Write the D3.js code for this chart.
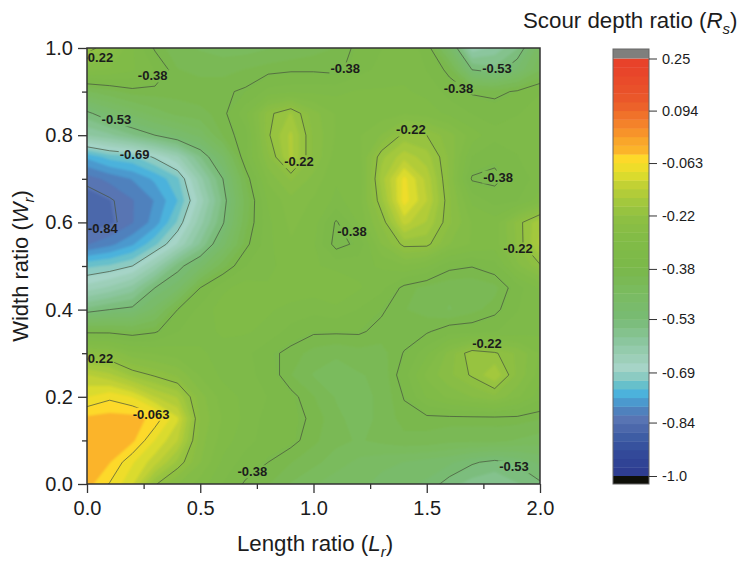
<!DOCTYPE html>
<html>
<head>
<meta charset="utf-8">
<script src="https://cdn.jsdelivr.net/npm/d3@7"></script>
<style>
  body { margin: 0; background: #fff; }
  text { font-family: "Liberation Sans", Arial, sans-serif; fill: #1c1c1c; }
</style>
</head>
<body>
<script>
// values, top row is Wr = 1.0, columns are Lr = 0 .. 2.0
const lengthRatio = d3.range(21).map(i => i / 10);
const widthRatio = d3.range(21).map(i => 1 - i / 20);
const scourDepth = [
  [-.20,-.25,-.32,-.385,-.42,-.43,-.44,-.44,-.43,-.42,-.41,-.40,-.37,-.35,-.33,-.36,-.48,-.63,-.60,-.56,-.46],
  [-.29,-.30,-.32,-.35,-.40,-.41,-.41,-.40,-.39,-.385,-.385,-.39,-.36,-.34,-.33,-.35,-.39,-.53,-.55,-.50,-.43],
  [-.43,-.41,-.39,-.39,-.39,-.385,-.385,-.375,-.34,-.33,-.33,-.33,-.32,-.32,-.32,-.33,-.36,-.385,-.39,-.375,-.35],
  [-.54,-.50,-.47,-.44,-.42,-.41,-.39,-.33,-.23,-.19,-.26,-.30,-.31,-.31,-.30,-.31,-.33,-.35,-.36,-.35,-.34],
  [-.61,-.59,-.56,-.53,-.50,-.47,-.40,-.36,-.225,-.16,-.25,-.30,-.30,-.27,-.21,-.22,-.26,-.31,-.34,-.34,-.33],
  [-.76,-.73,-.72,-.685,-.64,-.56,-.48,-.355,-.25,-.16,-.25,-.31,-.31,-.20,-.15,-.18,-.25,-.35,-.37,-.35,-.33],
  [-.83,-.81,-.79,-.76,-.72,-.62,-.53,-.40,-.29,-.24,-.28,-.32,-.32,-.18,-.08,-.15,-.25,-.385,-.39,-.36,-.34],
  [-.86,-.845,-.82,-.79,-.74,-.65,-.55,-.42,-.32,-.28,-.30,-.33,-.31,-.20,-.075,-.14,-.24,-.33,-.36,-.35,-.31],
  [-.86,-.85,-.82,-.78,-.71,-.62,-.535,-.41,-.33,-.29,-.31,-.385,-.32,-.24,-.13,-.17,-.24,-.30,-.31,-.235,-.17],
  [-.82,-.80,-.77,-.72,-.66,-.58,-.49,-.39,-.33,-.30,-.32,-.395,-.37,-.27,-.21,-.21,-.27,-.30,-.31,-.24,-.16],
  [-.72,-.71,-.69,-.63,-.545,-.49,-.41,-.35,-.33,-.31,-.32,-.33,-.33,-.32,-.30,-.32,-.37,-.378,-.36,-.28,-.225],
  [-.65,-.63,-.60,-.53,-.49,-.38,-.33,-.31,-.32,-.31,-.31,-.30,-.32,-.34,-.39,-.41,-.42,-.42,-.41,-.36,-.32],
  [-.55,-.53,-.52,-.47,-.38,-.34,-.31,-.305,-.32,-.33,-.34,-.33,-.35,-.375,-.40,-.41,-.43,-.41,-.39,-.35,-.33],
  [-.39,-.39,-.40,-.385,-.35,-.33,-.32,-.32,-.33,-.36,-.375,-.375,-.375,-.39,-.395,-.385,-.36,-.36,-.35,-.34,-.33],
  [-.24,-.25,-.29,-.30,-.31,-.32,-.33,-.34,-.37,-.39,-.41,-.42,-.41,-.41,-.378,-.33,-.26,-.20,-.215,-.25,-.30],
  [-.14,-.16,-.20,-.225,-.25,-.30,-.33,-.34,-.36,-.40,-.43,-.45,-.43,-.42,-.36,-.29,-.25,-.215,-.17,-.25,-.31],
  [-.09,-.07,-.09,-.14,-.17,-.26,-.31,-.33,-.35,-.37,-.40,-.43,-.44,-.42,-.378,-.32,-.29,-.27,-.25,-.29,-.34],
  [-.03,-.025,-.025,-.045,-.11,-.25,-.30,-.33,-.36,-.37,-.385,-.42,-.44,-.42,-.39,-.39,-.39,-.39,-.39,-.39,-.40],
  [-.02,-.02,-.03,-.09,-.14,-.26,-.31,-.34,-.36,-.37,-.395,-.42,-.43,-.42,-.41,-.41,-.42,-.42,-.42,-.43,-.44],
  [-.02,-.035,-.085,-.13,-.20,-.27,-.33,-.36,-.38,-.40,-.42,-.44,-.46,-.47,-.48,-.49,-.50,-.525,-.54,-.525,-.50],
  [-.025,-.065,-.11,-.215,-.27,-.31,-.35,-.385,-.40,-.43,-.45,-.47,-.47,-.49,-.50,-.51,-.545,-.57,-.58,-.56,-.535]
];

const lineLevels = [-0.84, -0.69, -0.53, -0.38, -0.22, -0.063];
const barTicks = [0.25, 0.094, -0.063, -0.22, -0.38, -0.53, -0.69, -0.84, -1.0];
const barTickText = ["0.25", "0.094", "-0.063", "-0.22", "-0.38", "-0.53", "-0.69", "-0.84", "-1.0"];

const labelText = ["-0.22","-0.38","-0.53","-0.69","-0.84","-0.22","-0.38","-0.38","-0.53","-0.22","-0.38","-0.38","-0.22","-0.22","-0.063","-0.38","-0.22","-0.53"];
const labelLr = [.05,.29,.13,.21,.07,.936,1.14,1.64,1.81,1.43,1.815,1.17,1.903,.05,.283,.73,1.766,1.885];
const labelWr = [.979,.936,.835,.755,.585,.739,.952,.908,.952,.812,.704,.578,.539,.287,.16,.028,.323,.039];

// colour ramp stops taken from the colour bar
const rampValues = [-1,-.93,-.89,-.86,-.835,-.81,-.785,-.76,-.735,-.71,-.68,-.6,-.53,-.45,-.38,-.28,-.22,-.17,-.13,-.09,-.05,-.04,-.03,0,.03,.08,.12,.22,.25];
const rampColors = ["#2d3a8f","#334a9a","#3a5aa2","#4a67aa","#5a72b2","#4f7dba","#4d92c8","#46ade0","#5bbdd2","#7fc7be","#a8d5ca","#8cc7a0","#78bb74","#7abb60","#7ab84a","#83bc46","#90c042","#a8ca3c","#c0d035","#e5e02a","#fdd92a","#fdd62a","#fbb82a","#f9a82a","#f7922a","#f0722a","#ea5a2a","#e8432a","#e8412a"];

const bandCount = 48;
const bandStep = 1.25 / bandCount;
const bandLevels = d3.range(bandCount).map(i => -1 + i * bandStep);
const ramp = d3.scaleLinear().domain(rampValues).range(rampColors).clamp(true);
const bandColor = t => ramp(t + bandStep / 2);

const width = 739, height = 561;
const plot = {left: 87, right: 540, top: 48, bottom: 484};
const bar = {left: 613, right: 649, top: 49, bottom: 484};

const x = d3.scaleLinear().domain([0, 2]).range([plot.left, plot.right]);
const y = d3.scaleLinear().domain([0, 1]).range([plot.bottom, plot.top]);
const barY = d3.scaleLinear().domain([-1, 0.25]).range([476, 58.5]);

const svg = d3.select("body").append("svg")
  .attr("width", width)
  .attr("height", height);

const defs = svg.append("defs");
defs.append("clipPath").attr("id", "plot-clip")
  .append("rect")
  .attr("x", plot.left).attr("y", plot.top)
  .attr("width", plot.right - plot.left).attr("height", plot.bottom - plot.top);
defs.append("filter").attr("id", "soft")
  .append("feGaussianBlur").attr("stdDeviation", 0.9);

// contours work in grid units, a value i sits at i + 0.5
const n = lengthRatio.length, m = widthRatio.length;
const flat = scourDepth.flat();
const project = d3.geoTransform({
  point: function(px, py) {
    const lr = d3.scaleLinear().domain([0, n - 1]).range([lengthRatio[0], lengthRatio[n - 1]])(px - 0.5);
    const wr = d3.scaleLinear().domain([0, m - 1]).range([widthRatio[0], widthRatio[m - 1]])(py - 0.5);
    this.stream.point(x(lr), y(wr));
  }
});
const path = d3.geoPath(project);

const clipped = svg.append("g").attr("clip-path", "url(#plot-clip)");

clipped.append("g").attr("filter", "url(#soft)")
  .selectAll("path")
  .data(d3.contours().size([n, m]).thresholds(bandLevels)(flat))
  .join("path")
    .attr("d", path)
    .attr("fill", d => bandColor(d.value))
    .attr("stroke", d => bandColor(d.value))
    .attr("stroke-width", 0.3);

const lineGroup = clipped.append("g")
  .attr("fill", "none")
  .attr("stroke", "#46523c")
  .attr("stroke-width", 0.7);

lineGroup.selectAll("path")
  .data(d3.contours().size([n, m]).thresholds(lineLevels)(flat))
  .join("path")
    .attr("d", path);

const labels = clipped.append("g")
  .attr("font-size", 13)
  .attr("font-weight", "bold")
  .attr("text-anchor", "middle")
  .selectAll("text")
  .data(labelText)
  .join("text")
    .attr("x", (d, i) => x(labelLr[i]))
    .attr("y", (d, i) => y(labelWr[i]) + 4.5)
    .text(d => d);

// contour lines are broken where a label sits
const mask = defs.append("mask").attr("id", "label-gaps")
  .attr("maskUnits", "userSpaceOnUse")
  .attr("x", 0).attr("y", 0).attr("width", width).attr("height", height);
mask.append("rect").attr("width", width).attr("height", height).attr("fill", "#fff");
labels.each(function() {
  const b = this.getBBox();
  mask.append("rect")
    .attr("x", b.x - 1).attr("y", b.y + 1)
    .attr("width", b.width + 2).attr("height", b.height - 2)
    .attr("fill", "#000");
});
lineGroup.attr("mask", "url(#label-gaps)");

// frame and axes
svg.append("rect")
  .attr("x", plot.left).attr("y", plot.top)
  .attr("width", plot.right - plot.left).attr("height", plot.bottom - plot.top)
  .attr("fill", "none")
  .attr("stroke", "#333")
  .attr("stroke-width", 1.5);

const styleAxis = g => {
  g.select(".domain").remove();
  g.selectAll("line").attr("stroke", "#333").attr("stroke-width", 1.3);
  g.selectAll("text").attr("font-size", 20).attr("fill", "#333");
};

svg.append("g")
  .attr("transform", `translate(0,${plot.bottom})`)
  .call(d3.axisBottom(x).tickValues([0, 0.5, 1, 1.5, 2]).tickSize(9).tickPadding(8).tickFormat(d3.format(".1f")))
  .call(styleAxis);
svg.append("g")
  .attr("transform", `translate(0,${plot.bottom})`)
  .call(d3.axisBottom(x).tickValues([0.25, 0.75, 1.25, 1.75]).tickSize(5).tickFormat(""))
  .call(styleAxis);
svg.append("g")
  .attr("transform", `translate(${plot.left},0)`)
  .call(d3.axisLeft(y).tickValues([0, 0.2, 0.4, 0.6, 0.8, 1]).tickSize(9).tickPadding(5).tickFormat(d3.format(".1f")))
  .call(styleAxis);
svg.append("g")
  .attr("transform", `translate(${plot.left},0)`)
  .call(d3.axisLeft(y).tickValues([0.1, 0.3, 0.5, 0.7, 0.9]).tickSize(5).tickFormat(""))
  .call(styleAxis);

// axis titles
const title = (sel, main, sub) => {
  sel.append("tspan").text(main + " (");
  sel.append("tspan").attr("font-style", "italic").text(sub[0]);
  sel.append("tspan").attr("font-style", "italic").attr("font-size", 15).attr("dy", 6).text(sub[1]);
  sel.append("tspan").attr("dy", -6).text(")");
};

svg.append("text")
  .attr("x", 315)
  .attr("y", 551)
  .attr("text-anchor", "middle")
  .attr("font-size", 22.3)
  .call(title, "Length ratio", "Lr");

svg.append("text")
  .attr("transform", "translate(28,266) rotate(-90)")
  .attr("text-anchor", "middle")
  .attr("font-size", 22)
  .call(title, "Width ratio", "Wr");

svg.append("text")
  .attr("x", 523)
  .attr("y", 28)
  .attr("font-size", 22.3)
  .call(title, "Scour depth ratio", "Rs");

// colour bar
const barG = svg.append("g");
barG.selectAll("rect.band")
  .data(bandLevels)
  .join("rect")
    .attr("class", "band")
    .attr("x", bar.left)
    .attr("width", bar.right - bar.left)
    .attr("y", d => barY(d + bandStep))
    .attr("height", d => barY(d) - barY(d + bandStep) + 0.4)
    .attr("fill", d => bandColor(d));
barG.append("rect")
  .attr("x", bar.left).attr("y", bar.top)
  .attr("width", bar.right - bar.left).attr("height", barY(0.25) - bar.top)
  .attr("fill", "#7f7f7d");
barG.append("rect")
  .attr("x", bar.left).attr("y", barY(-1))
  .attr("width", bar.right - bar.left).attr("height", bar.bottom - barY(-1))
  .attr("fill", "#0e0f08");
barG.append("rect")
  .attr("x", bar.left).attr("y", bar.top)
  .attr("width", bar.right - bar.left).attr("height", bar.bottom - bar.top)
  .attr("fill", "none")
  .attr("stroke", "#666")
  .attr("stroke-width", 1);

svg.append("g")
  .attr("transform", `translate(${bar.right},0)`)
  .call(d3.axisRight(barY).tickValues(barTicks).tickSize(8).tickPadding(5)
    .tickFormat((d, i) => barTickText[i]))
  .call(g => {
    g.select(".domain").remove();
    g.selectAll("line").attr("stroke", "#333").attr("stroke-width", 1);
    g.selectAll("text").attr("font-size", 14.5).attr("fill", "#333");
  });
</script>
</body>
</html>
